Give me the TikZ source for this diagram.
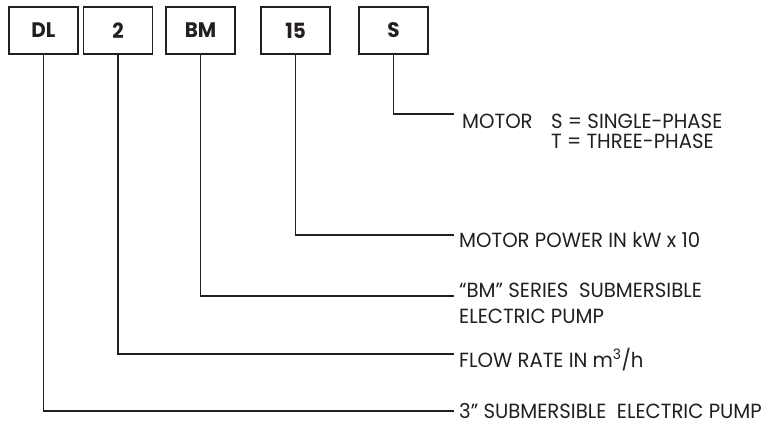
\documentclass[tikz,border=0pt]{standalone}
\usepackage{fontspec}
\newfontfamily\lblfont{Poppins}[FakeStretch=0.96]
\newfontfamily\boxfont{Poppins}[FakeStretch=0.95]
\definecolor{ink}{HTML}{231F20}
\begin{document}
\begin{tikzpicture}[x=1pt,y=-1pt,
  codebox/.style={draw=ink,line width=1.4pt,minimum width=69pt,minimum height=47pt,inner sep=0pt,
    font=\boxfont\bfseries\fontsize{21}{21}\selectfont,text=ink},
  leader/.style={draw=ink,line width=1.2pt},
  desc/.style={anchor=base west,inner sep=0pt,text height=14pt,text depth=3pt,text=ink,
    font=\lblfont\fontsize{20.5}{20.5}\selectfont}]
\useasboundingbox (0,0) rectangle (768,426);
% code boxes
\node[codebox] (dl) at (43.5,30.5) {DL};
\node[codebox] (two) at (118,30.5) {2};
\node[codebox] (bm) at (200.5,30.5) {BM};
\node[codebox] (fif) at (295.5,30.5) {15};
\node[codebox] (s) at (393.5,30.5) {S};
% end points
\coordinate (es) at (454,114);
\coordinate (efif) at (454,235);
\coordinate (ebm) at (454,296);
\coordinate (etwo) at (454,354);
\coordinate (edl) at (454,411);
% leaders
\draw[leader] (s.south) |- (es);
\draw[leader] (fif.south) |- (efif);
\draw[leader] (bm.south) |- (ebm);
\draw[leader] (two.south) |- (etwo);
\draw[leader] (dl.south) |- (edl);
% descriptions
\node[desc] (tmotor) at (462,128) {MOTOR};
\node[desc] (tsingle) at (551,128) {S = SINGLE-PHASE};
\node[desc] (tthree) at (551,148) {T = THREE-PHASE};
\node[desc] (tpower) at (459,247) {MOTOR POWER IN kW x 10};
\node[desc] (tbm1) at (459,297) {“BM” SERIES\ \ SUBMERSIBLE};
\node[desc] (tbm2) at (459,323) {ELECTRIC PUMP};
\node[desc] (tflow) at (459,367) {FLOW RATE IN m\textsuperscript{3}/h};
\node[desc] (tdl) at (459,418) {3” SUBMERSIBLE\ \ ELECTRIC PUMP};
\end{tikzpicture}
\end{document}
